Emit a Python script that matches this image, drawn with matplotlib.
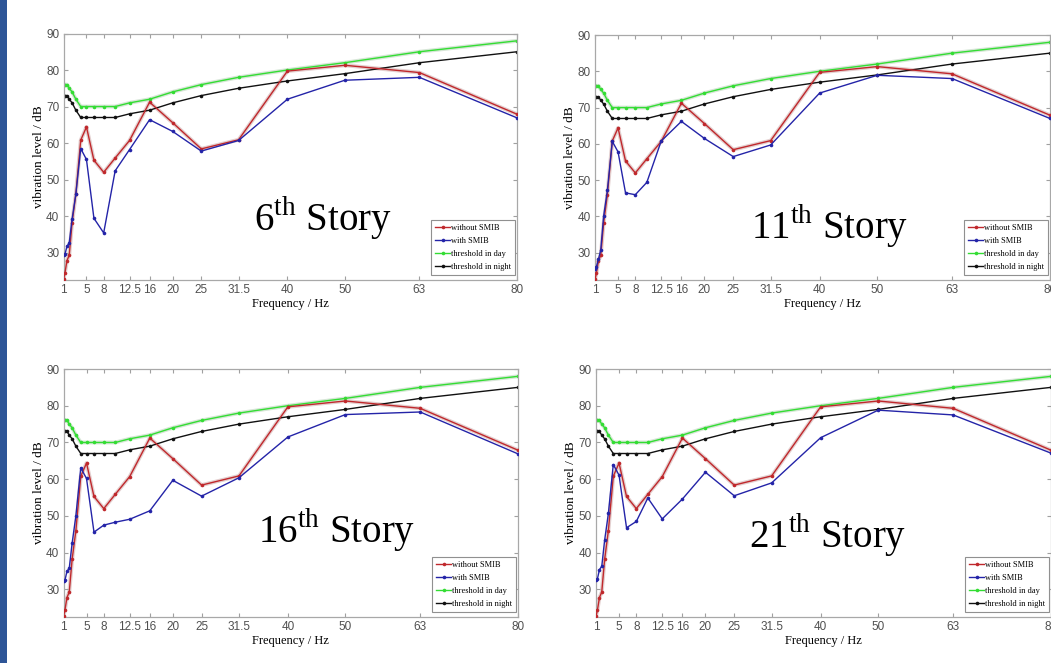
import numpy as np
import matplotlib
matplotlib.use("Agg")
import matplotlib.pyplot as plt
from matplotlib.patches import Rectangle

plt.rcParams['font.family'] = ['Liberation Sans', 'DejaVu Sans']
plt.rcParams['mathtext.fontset'] = 'custom'
plt.rcParams['mathtext.rm'] = 'Liberation Serif'

# DATA ---------------------------------------------------------------------------------------------
freqs = [1, 1.25, 1.6, 2, 2.5, 3.15, 4, 5, 6.3, 8, 10, 12.5, 16, 20, 25, 31.5, 40, 50, 63, 80]
tick_freqs = [1, 5, 8, 12.5, 16, 20, 25, 31.5, 40, 50, 63, 80]
tick_labels = ['1', '5', '8', '12.5', '16', '20', '25', '31.5', '40', '50', '63', '80']

threshold_day = [76, 76, 76, 75, 74, 72, 70, 70, 70, 70, 70, 71, 72, 74, 76, 78, 80, 82, 85, 88]
threshold_night = [73, 73, 73, 72, 71, 69, 67, 67, 67, 67, 67, 68, 69, 71, 73, 75, 77, 79, 82, 85]
without_smib = [22.7, 24.4, 27.8, 29.3, 38.2, 46.0, 60.8, 64.4, 55.3, 52.0,
                55.9, 60.7, 71.2, 65.6, 58.4, 60.9, 79.7, 81.3, 79.3, 67.9]

with_smib_6 = [29.3, 29.5, 31.7, 32.7, 39.2, 46.0, 58.5, 55.5, 39.4, 35.4,
               52.4, 58.2, 66.4, 63.2, 57.8, 60.7, 72.0, 77.2, 78.0, 66.9]
with_smib_11 = [25.6, 26.2, 28.2, 30.8, 40.1, 47.2, 60.7, 57.8, 46.5, 46.0,
                49.4, 60.8, 66.2, 61.5, 56.5, 59.7, 74.0, 78.9, 78.0, 67.0]
with_smib_16 = [32.2, 32.5, 34.9, 35.8, 42.6, 50.0, 63.1, 60.2, 45.6, 47.5,
                48.3, 49.1, 51.4, 59.7, 55.4, 60.4, 71.5, 77.6, 78.3, 66.9]
with_smib_21 = [32.5, 32.9, 35.4, 36.3, 43.4, 50.7, 64.0, 61.1, 46.8, 48.5,
                54.9, 49.2, 54.6, 61.9, 55.5, 59.0, 71.3, 78.8, 77.5, 67.1]

stories = ['6', '11', '16', '21']
with_smib = [with_smib_6, with_smib_11, with_smib_16, with_smib_21]

# LAYOUT -------------------------------------------------------------------------------------------
W, H = 1051, 663
fig = plt.figure(figsize=(W / 100, H / 100), dpi=100)
fig.patches.append(Rectangle((0, 0), 7 / W, 1, transform=fig.transFigure,
                             facecolor='#2E5597', edgecolor='none'))

# left, top, right, bottom in pixels
boxes = [(63.5, 33.5, 517, 280), (595, 35, 1050, 280),
         (63.5, 369, 518, 617), (596, 369, 1051, 617)]
text_pos = [(0.572, 0.25), (0.515, 0.22), (0.6, 0.35), (0.51, 0.33)]

serif = ['Liberation Serif', 'DejaVu Serif']
mk = dict(lw=1.0, marker='o', ms=2.6, mew=0)

for i, (l, t, r, b) in enumerate(boxes):
    ax = fig.add_axes([l / W, (H - b) / H, (r - l) / W, (b - t) / H])

    # pale double-line look on red and green
    ax.plot(freqs, without_smib, color='#e3cfcf', lw=2.8, zorder=1)
    ax.plot(freqs, threshold_day, color='#d6e6d6', lw=2.8, zorder=1)

    ax.plot(freqs, without_smib, color='#C0282C', label='without SMIB', zorder=3, **mk)
    ax.plot(freqs, with_smib[i], color='#2424A8', label='with SMIB', zorder=4, **mk)
    ax.plot(freqs, threshold_day, color='#33DD33', label='threshold in day', zorder=2, **mk)
    ax.plot(freqs, threshold_night, color='#111111', label='threshold in night', zorder=2, **mk)

    ax.set_xlim(1, 80)
    ax.set_ylim(22.5, 90)
    ax.set_xticks(tick_freqs)
    ax.set_xticklabels(tick_labels)
    ax.set_yticks(np.arange(30, 91, 10))

    ax.tick_params(direction='in', top=True, right=True, length=3, width=0.8,
                   color='#a0a0a0', labelcolor='#505050', labelsize=8.5, pad=3)
    for s in ax.spines.values():
        s.set_color('#a8a8a8')
        s.set_linewidth(0.9)

    ax.set_xlabel('Frequency / Hz', family=serif, fontsize=9, labelpad=1)
    ax.set_ylabel('vibration level / dB', family=serif, fontsize=9.5, labelpad=1)

    ax.text(text_pos[i][0], text_pos[i][1], stories[i] + r'$^{\mathrm{th}}$ Story',
            transform=ax.transAxes, ha='center', va='center',
            family=serif, fontsize=28)

    leg = ax.legend(loc='lower right', bbox_to_anchor=(0.996, 0.02), borderaxespad=0,
                    prop={'family': serif, 'size': 6}, handlelength=1.8,
                    handletextpad=0.15, labelspacing=0.62, borderpad=0.45,
                    fancybox=False, framealpha=1)
    leg.get_frame().set_edgecolor('#909090')
    leg.get_frame().set_linewidth(0.8)

fig.savefig('out.png', dpi=100)
